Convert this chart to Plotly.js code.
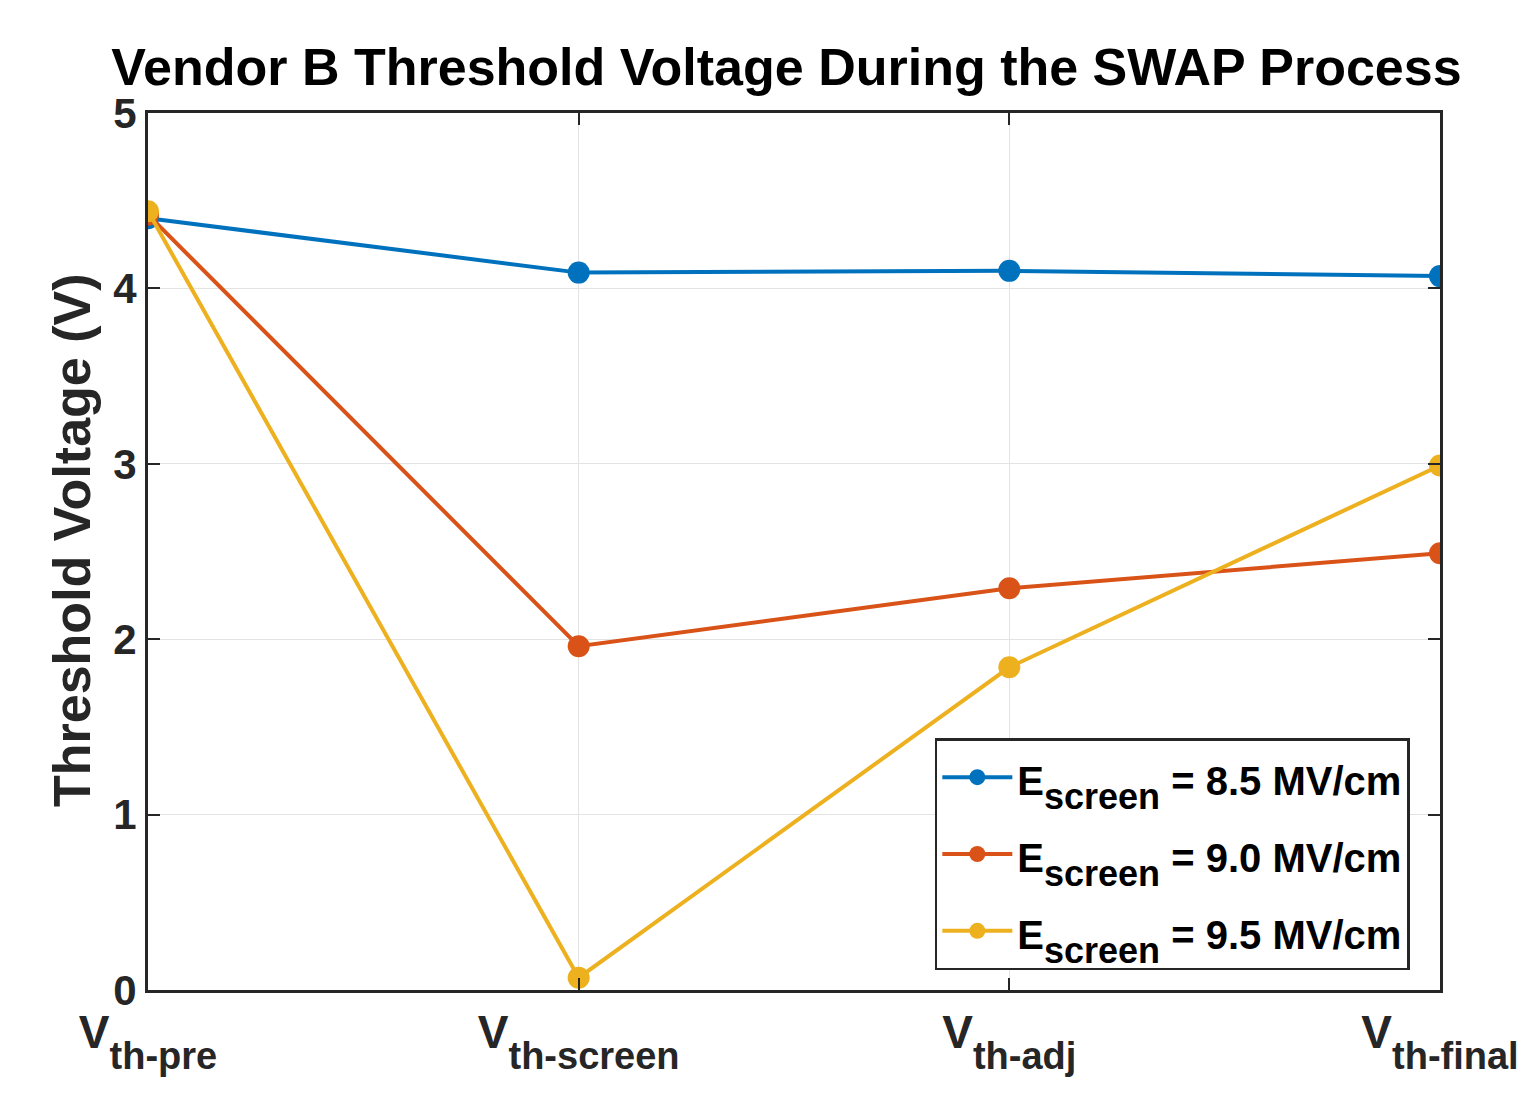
<!DOCTYPE html>
<html>
<head>
<meta charset="utf-8">
<script src="https://cdn.plot.ly/plotly-3.0.1.min.js"></script>
<style>html,body{margin:0;padding:0;background:#fff;}#chart{width:1536px;height:1113px;}</style>
</head>
<body>
<div id="chart"></div>
<script>
const categories = ["th-pre", "th-screen", "th-adj", "th-final"];
const xPositions = [1, 2, 3, 4];
const vth85 = [4.40, 4.09, 4.10, 4.07];
const vth90 = [4.42, 1.96, 2.29, 2.49];
const vth95 = [4.44, 0.07, 1.84, 2.99];
const fieldValues = ["8.5", "9.0", "9.5"];
const colors = ["#0072BD", "#D95319", "#EDB120"];
const yTicks = [0, 1, 2, 3, 4, 5];

const font = "Liberation Sans, Arial, Helvetica, sans-serif";
const deepSub = (s, px, n) => "<sub>".repeat(n) + "<span style='font-size:" + px + "px'>" + s + "</span>" + "</sub>".repeat(n);
const traces = [vth85, vth90, vth95].map((ys, i) => ({
  x: xPositions, y: ys, type: "scatter", mode: "lines+markers",
  name: "<span style='font-size:40px'><b>E" + deepSub("screen", 36, 2) + " = " + fieldValues[i] + " MV/cm</b></span>",
  legendgroup: "g" + i,
  line: {color: colors[i], width: 4},
  marker: {color: colors[i], size: 22}
}));

const layout = {
  width: 1536, height: 1113,
  margin: {l: 148, r: 96, t: 113, b: 123},
  paper_bgcolor: "#fff", plot_bgcolor: "#fff",
  title: {text: "<b>Vendor B Threshold Voltage During the SWAP Process</b>", font: {family: font, size: 52, color: "#000"}, x: 0.512, xanchor: "center", y: 0.94, yanchor: "middle"},
  xaxis: {
    range: [1, 4], tickvals: xPositions,
    ticktext: categories.map(c => "<b>V" + deepSub(c, 38, 3) + "</b>"),
    showgrid: true, gridcolor: "#e3e3e3", gridwidth: 1,
    showline: true, linecolor: "#262626", linewidth: 3, mirror: "ticks",
    ticks: "inside", ticklen: 12, tickwidth: 2, tickcolor: "#262626",
    tickfont: {family: font, size: 46, color: "#262626"}, zeroline: false
  },
  yaxis: {
    range: [0, 5], tickvals: yTicks, ticktext: yTicks.map(v => "<b>" + v + "</b>"),
    showgrid: true, gridcolor: "#e3e3e3", gridwidth: 1,
    showline: true, linecolor: "#262626", linewidth: 3, mirror: "ticks",
    ticks: "inside", ticklen: 12, tickwidth: 2, tickcolor: "#262626",
    tickfont: {family: font, size: 42, color: "#262626"}, zeroline: false
  },
  annotations: [{
    text: "<b>Threshold Voltage (V)</b>", textangle: -90,
    xref: "paper", yref: "paper", x: (72 - 148) / 1292, y: (990 - 540) / 877,
    xanchor: "center", yanchor: "middle", showarrow: false,
    font: {family: font, size: 52, color: "#262626"}
  }],
  legend: {
    x: 0.609, y: 0.287, xanchor: "left", yanchor: "top",
    bgcolor: "#fff", bordercolor: "#262626", borderwidth: 2.5,
    font: {family: font, size: 46, color: "#000"},
    itemwidth: 70, tracegroupgap: 14
  },
  showlegend: true
};
Plotly.newPlot("chart", traces, layout, {displayModeBar: false, staticPlot: true});
</script>
</body>
</html>
